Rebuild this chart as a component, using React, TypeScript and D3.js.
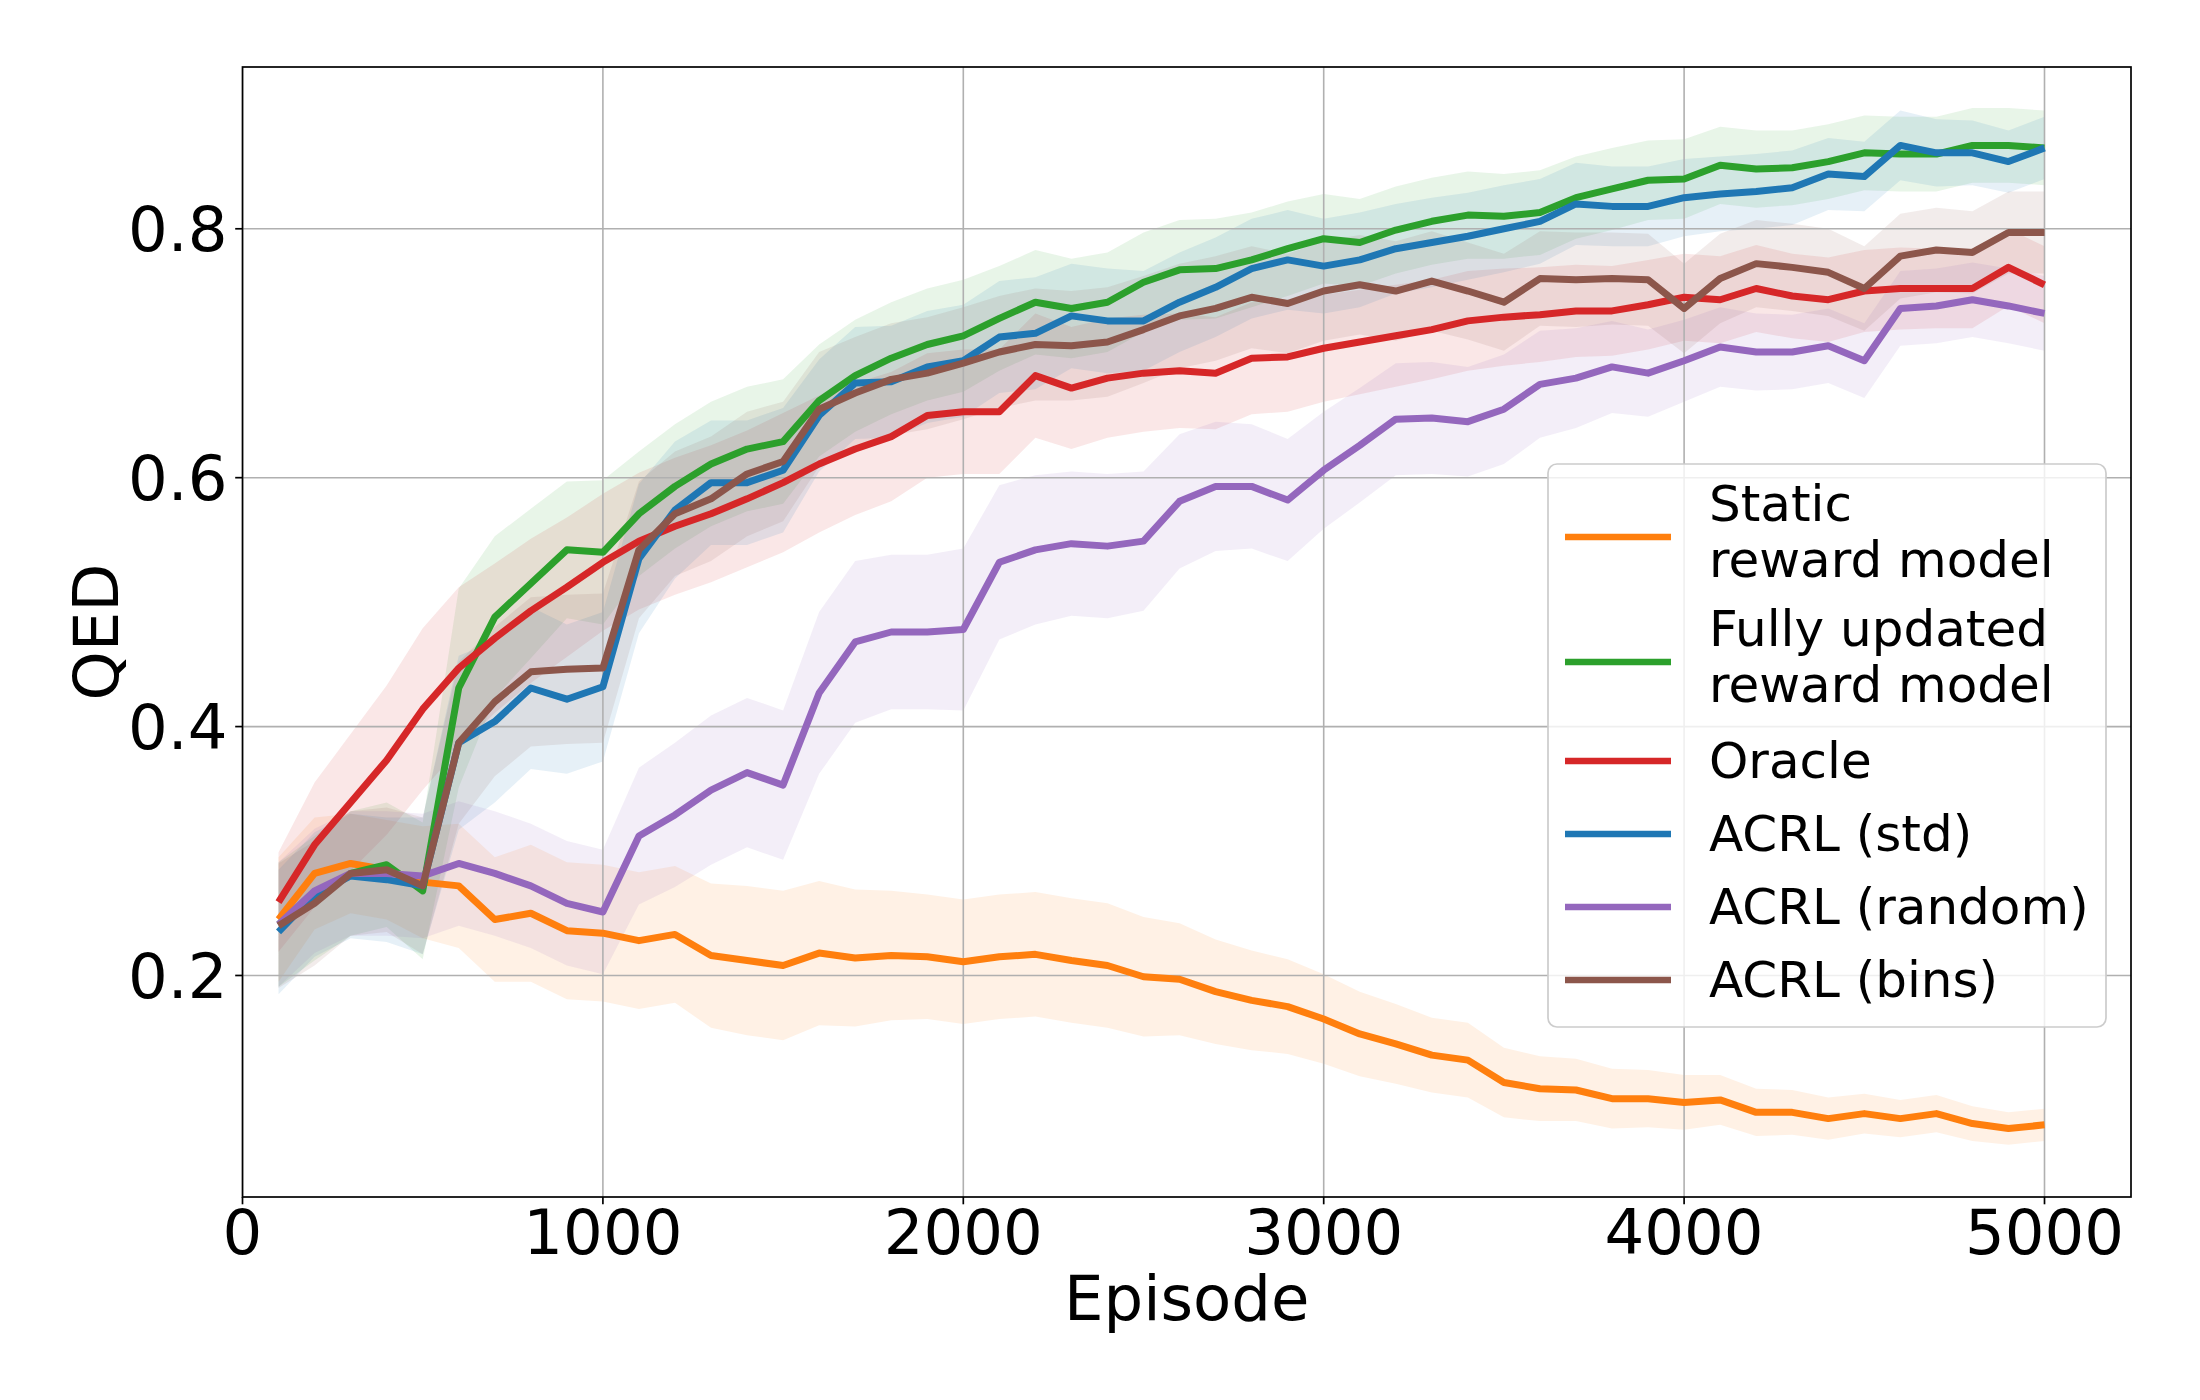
import React from 'react';
import * as d3 from 'd3';

// episodes sampled every 100 steps
const episodes = d3.range(100, 5001, 100);

const seriesNames = [
  'Static\nreward model',
  'Fully updated\nreward model',
  'Oracle',
  'ACRL (std)',
  'ACRL (random)',
  'ACRL (bins)',
];
const seriesColors = ['#ff7f0e', '#2ca02c', '#d62728', '#1f77b4', '#9467bd', '#8c564b'];

const staticQed = [
  0.245, 0.282, 0.290, 0.285, 0.275, 0.272, 0.245, 0.250, 0.236, 0.234,
  0.228, 0.233, 0.216, 0.212, 0.208, 0.218, 0.214, 0.216, 0.215, 0.211,
  0.215, 0.217, 0.212, 0.208, 0.199, 0.197, 0.187, 0.180, 0.175, 0.165,
  0.153, 0.145, 0.136, 0.132, 0.114, 0.109, 0.108, 0.101, 0.101, 0.098,
  0.100, 0.090, 0.090, 0.085, 0.089, 0.085, 0.089, 0.081, 0.077, 0.080,
];
const fullyQed = [
  0.241, 0.262, 0.282, 0.289, 0.268, 0.431, 0.488, 0.515, 0.542, 0.540,
  0.571, 0.593, 0.611, 0.623, 0.629, 0.662, 0.682, 0.696, 0.707, 0.714,
  0.728, 0.741, 0.736, 0.741, 0.757, 0.767, 0.768, 0.775, 0.784, 0.792,
  0.789, 0.799, 0.806, 0.811, 0.810, 0.813, 0.825, 0.832, 0.839, 0.840,
  0.851, 0.848, 0.849, 0.854, 0.861, 0.860, 0.860, 0.867, 0.867, 0.865,
];
const oracleQed = [
  0.259, 0.305, 0.339, 0.373, 0.414, 0.447, 0.471, 0.493, 0.512, 0.532,
  0.549, 0.561, 0.571, 0.583, 0.596, 0.611, 0.623, 0.633, 0.650, 0.653,
  0.653, 0.682, 0.672, 0.680, 0.684, 0.686, 0.684, 0.696, 0.697, 0.704,
  0.709, 0.714, 0.719, 0.726, 0.729, 0.731, 0.734, 0.734, 0.739, 0.745,
  0.743, 0.752, 0.746, 0.743, 0.750, 0.752, 0.752, 0.752, 0.769, 0.755,
];
const stdQed = [
  0.235, 0.265, 0.280, 0.277, 0.272, 0.387, 0.404, 0.431, 0.422, 0.432,
  0.535, 0.574, 0.596, 0.596, 0.606, 0.650, 0.676, 0.677, 0.689, 0.694,
  0.713, 0.716, 0.730, 0.726, 0.726, 0.741, 0.753, 0.768, 0.775, 0.770,
  0.775, 0.784, 0.789, 0.794, 0.800, 0.806, 0.820, 0.818, 0.818, 0.825,
  0.828, 0.830, 0.833, 0.844, 0.842, 0.867, 0.861, 0.861, 0.854, 0.865,
];
const randomQed = [
  0.241, 0.268, 0.282, 0.282, 0.280, 0.290, 0.282, 0.272, 0.258, 0.251,
  0.312, 0.329, 0.349, 0.363, 0.353, 0.427, 0.468, 0.476, 0.476, 0.478,
  0.532, 0.542, 0.547, 0.545, 0.549, 0.581, 0.593, 0.593, 0.582, 0.606,
  0.626, 0.647, 0.648, 0.645, 0.655, 0.675, 0.680, 0.689, 0.684, 0.694,
  0.705, 0.701, 0.701, 0.706, 0.694, 0.736, 0.738, 0.743, 0.738, 0.732,
];
const binsQed = [
  0.240, 0.258, 0.282, 0.285, 0.272, 0.387, 0.420, 0.444, 0.446, 0.447,
  0.542, 0.571, 0.583, 0.603, 0.613, 0.655, 0.668, 0.679, 0.684, 0.692,
  0.701, 0.707, 0.706, 0.709, 0.719, 0.730, 0.736, 0.745, 0.740, 0.750,
  0.755, 0.750, 0.758, 0.750, 0.741, 0.760, 0.759, 0.760, 0.759, 0.736,
  0.760, 0.772, 0.769, 0.765, 0.752, 0.778, 0.783, 0.781, 0.797, 0.797,
];

// half-width of the shaded band around each mean
const staticSpread = [
  0.050, 0.045, 0.040, 0.040, 0.045, 0.050, 0.050, 0.055, 0.055, 0.055,
  0.055, 0.055, 0.058, 0.060, 0.060, 0.058, 0.055, 0.052, 0.050, 0.050,
  0.050, 0.050, 0.050, 0.050, 0.048, 0.045, 0.042, 0.040, 0.038, 0.036,
  0.034, 0.032, 0.030, 0.030, 0.028, 0.026, 0.025, 0.024, 0.023, 0.022,
  0.020, 0.019, 0.018, 0.017, 0.016, 0.015, 0.015, 0.014, 0.013, 0.013,
];
const fullySpread = [
  0.050, 0.050, 0.050, 0.050, 0.055, 0.080, 0.065, 0.060, 0.055, 0.058,
  0.050, 0.050, 0.050, 0.050, 0.050, 0.045, 0.045, 0.045, 0.045, 0.045,
  0.042, 0.042, 0.040, 0.040, 0.040, 0.040, 0.040, 0.038, 0.038, 0.036,
  0.035, 0.035, 0.035, 0.035, 0.034, 0.034, 0.033, 0.033, 0.032, 0.032,
  0.031, 0.031, 0.030, 0.030, 0.030, 0.030, 0.030, 0.030, 0.030, 0.030,
];
const oracleSpread = [
  0.040, 0.050, 0.055, 0.060, 0.065, 0.065, 0.060, 0.058, 0.056, 0.055,
  0.055, 0.055, 0.055, 0.055, 0.056, 0.055, 0.053, 0.052, 0.050, 0.050,
  0.050, 0.050, 0.049, 0.048, 0.047, 0.046, 0.045, 0.045, 0.044, 0.043,
  0.042, 0.041, 0.040, 0.040, 0.039, 0.038, 0.037, 0.036, 0.036, 0.035,
  0.035, 0.035, 0.034, 0.034, 0.033, 0.033, 0.032, 0.032, 0.031, 0.031,
];
const stdSpread = [
  0.050, 0.050, 0.050, 0.050, 0.055, 0.070, 0.065, 0.065, 0.060, 0.060,
  0.060, 0.055, 0.050, 0.050, 0.050, 0.045, 0.045, 0.045, 0.045, 0.045,
  0.045, 0.045, 0.042, 0.042, 0.040, 0.040, 0.040, 0.040, 0.040, 0.038,
  0.038, 0.036, 0.036, 0.035, 0.035, 0.034, 0.033, 0.032, 0.032, 0.031,
  0.030, 0.030, 0.030, 0.029, 0.028, 0.028, 0.027, 0.026, 0.025, 0.025,
];
const randomSpread = [
  0.050, 0.050, 0.050, 0.050, 0.050, 0.050, 0.050, 0.050, 0.050, 0.050,
  0.055, 0.058, 0.060, 0.060, 0.060, 0.065, 0.065, 0.062, 0.062, 0.065,
  0.062, 0.060, 0.058, 0.058, 0.056, 0.054, 0.052, 0.050, 0.049, 0.047,
  0.046, 0.045, 0.045, 0.044, 0.044, 0.043, 0.040, 0.037, 0.035, 0.033,
  0.032, 0.031, 0.030, 0.030, 0.030, 0.030, 0.030, 0.030, 0.030, 0.030,
];
const binsSpread = [
  0.050, 0.050, 0.050, 0.050, 0.055, 0.065, 0.060, 0.060, 0.060, 0.060,
  0.055, 0.050, 0.050, 0.050, 0.048, 0.046, 0.045, 0.045, 0.045, 0.045,
  0.045, 0.045, 0.044, 0.044, 0.043, 0.042, 0.042, 0.041, 0.040, 0.040,
  0.040, 0.040, 0.040, 0.039, 0.039, 0.038, 0.038, 0.037, 0.037, 0.036,
  0.036, 0.035, 0.035, 0.035, 0.034, 0.034, 0.034, 0.033, 0.033, 0.033,
];

const seriesMeans = [staticQed, fullyQed, oracleQed, stdQed, randomQed, binsQed];
const seriesSpreads = [staticSpread, fullySpread, oracleSpread, stdSpread, randomSpread, binsSpread];

const xTicks = [0, 1000, 2000, 3000, 4000, 5000];
const yTicks = [0.2, 0.4, 0.6, 0.8];

const W = 2200;
const H = 1400;
const plot = { left: 242.5, right: 2131, top: 67, bottom: 1197 };
const FONT = 'DejaVu Sans, sans-serif';

const App: React.FC = () => {
  const x = d3.scaleLinear().domain([0, 5240]).range([plot.left, plot.right]);
  const y = d3.scaleLinear().domain([0.022, 0.93]).range([plot.bottom, plot.top]);

  const line = d3
    .line<number>()
    .x((_, i) => x(episodes[i]))
    .y((d) => y(d));

  const bandFor = (mean: number[], spread: number[]) =>
    d3
      .area<number>()
      .x((_, i) => x(episodes[i]))
      .y0((d, i) => y(d - spread[i]))
      .y1((d, i) => y(d + spread[i]))(mean);

  // legend layout
  const legend = { left: 1548, top: 464, right: 2106, bottom: 1027 };
  const rowH = (n: number) => (n > 1 ? 125 : 73);
  let cursor = legend.top + 10.5;
  const rows = seriesNames.map((name, i) => {
    const lines = name.split('\n');
    const h = rowH(lines.length);
    const center = cursor + h / 2;
    cursor += h;
    return { lines, center, color: seriesColors[i] };
  });

  return (
    <svg
      width={W}
      height={H}
      style={{ position: 'absolute', left: 0, top: 0, background: '#fff' }}
      fontFamily={FONT}
    >
      <defs>
        <clipPath id="plot-clip">
          <rect x={plot.left} y={plot.top} width={plot.right - plot.left} height={plot.bottom - plot.top} />
        </clipPath>
      </defs>
      <rect x={0} y={0} width={W} height={H} fill="#fff" />

      <g clipPath="url(#plot-clip)">
        {seriesMeans.map((mean, i) => (
          <path key={`band-${i}`} d={bandFor(mean, seriesSpreads[i]) || ''} fill={seriesColors[i]} fillOpacity={0.11} stroke="none" />
        ))}

        {xTicks.map((t) => (
          <line key={`gx-${t}`} x1={x(t)} x2={x(t)} y1={plot.top} y2={plot.bottom} stroke="#b0b0b0" strokeWidth={1.6} />
        ))}
        {yTicks.map((t) => (
          <line key={`gy-${t}`} x1={plot.left} x2={plot.right} y1={y(t)} y2={y(t)} stroke="#b0b0b0" strokeWidth={1.6} />
        ))}

        {seriesMeans.map((mean, i) => (
          <path
            key={`line-${i}`}
            d={line(mean) || ''}
            fill="none"
            stroke={seriesColors[i]}
            strokeWidth={7}
            strokeLinejoin="round"
            strokeLinecap="butt"
          />
        ))}
      </g>

      {/* axes frame */}
      <rect
        x={plot.left}
        y={plot.top}
        width={plot.right - plot.left}
        height={plot.bottom - plot.top}
        fill="none"
        stroke="#000"
        strokeWidth={1.7}
      />

      {xTicks.map((t) => (
        <g key={`xt-${t}`}>
          <line x1={x(t)} x2={x(t)} y1={plot.bottom} y2={plot.bottom + 7.3} stroke="#000" strokeWidth={1.7} />
          <text x={x(t)} y={plot.bottom + 57} fontSize={62.5} textAnchor="middle" fill="#000">
            {t}
          </text>
        </g>
      ))}
      {yTicks.map((t) => (
        <g key={`yt-${t}`}>
          <line x1={plot.left - 7.3} x2={plot.left} y1={y(t)} y2={y(t)} stroke="#000" strokeWidth={1.7} />
          <text x={plot.left - 15} y={y(t)} dy="0.36em" fontSize={62.5} textAnchor="end" fill="#000">
            {t.toFixed(1)}
          </text>
        </g>
      ))}

      <text x={(plot.left + plot.right) / 2} y={1320} fontSize={62.5} textAnchor="middle" fill="#000">
        Episode
      </text>
      <text
        transform={`translate(118, ${(plot.top + plot.bottom) / 2}) rotate(-90)`}
        fontSize={62.5}
        textAnchor="middle"
        fill="#000"
      >
        QED
      </text>

      {/* legend */}
      <rect
        x={legend.left}
        y={legend.top}
        width={legend.right - legend.left}
        height={legend.bottom - legend.top}
        rx={9}
        fill="#fff"
        fillOpacity={0.8}
        stroke="#cccccc"
        strokeWidth={1.7}
      />
      {rows.map((r, i) => {
        const offset = r.lines.length > 1 ? 12 : 17;
        return (
          <g key={`lg-${i}`}>
            <line x1={1565} x2={1671} y1={r.center} y2={r.center} stroke={r.color} strokeWidth={6.5} />
            {r.lines.map((txt, j) => (
              <text
                key={j}
                x={1709}
                y={r.center + offset + (j - (r.lines.length - 1) / 2) * 55.5}
                fontSize={50}
                fill="#000"
              >
                {txt}
              </text>
            ))}
          </g>
        );
      })}
    </svg>
  );
};

export default App;
